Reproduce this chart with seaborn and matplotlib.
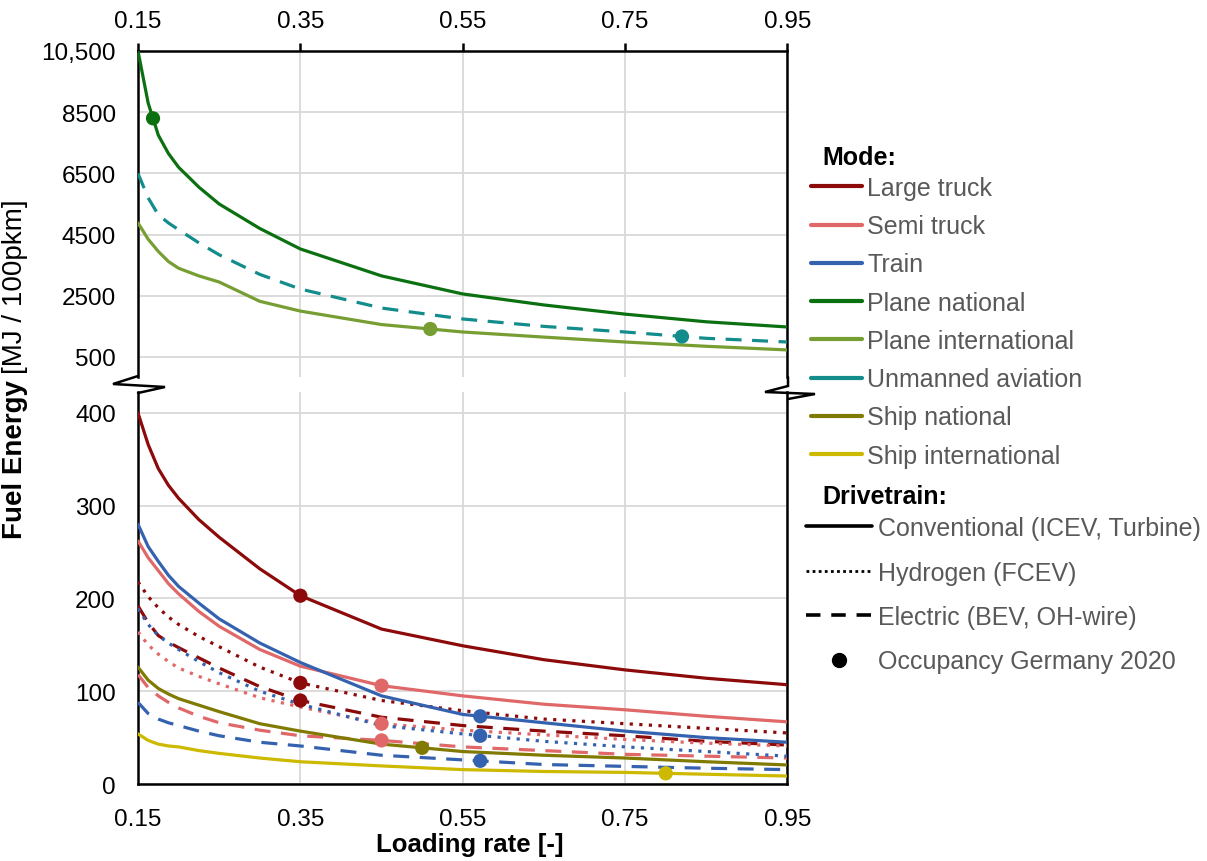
import matplotlib
matplotlib.use("Agg")
import matplotlib.pyplot as plt
from matplotlib.lines import Line2D
import pandas as pd
import seaborn as sns

# ---------------------------------------------------------------------------
# Fuel energy per 100 passenger-km as a function of the loading rate
# ---------------------------------------------------------------------------
loading = [0.15, 0.1625, 0.175, 0.1875, 0.2, 0.225, 0.25, 0.3, 0.35,
           0.45, 0.55, 0.65, 0.75, 0.85, 0.95]

# aviation (upper panel, MJ / 100pkm)
plane_national_conv = [10500, 8800, 7750, 7150, 6700, 6050, 5500, 4700, 4030,
                       3150, 2560, 2200, 1900, 1650, 1480]
plane_international_conv = [4880, 4350, 3950, 3620, 3400, 3150, 2950, 2320, 2000,
                            1560, 1317, 1150, 990, 850, 730]
unmanned_aviation_bev = [6500, 5700, 5150, 4880, 4660, 4230, 3840, 3200, 2720,
                         2100, 1742, 1500, 1317, 1110, 990]

# road, rail and water (lower panel, MJ / 100pkm)
large_truck_conv = [400, 366, 340, 322, 308, 285, 266, 232, 203,
                    167, 149, 134, 123, 114, 107]
large_truck_h2 = [218, 202, 190, 180, 172, 159, 148, 126, 109,
                  90, 79, 70, 65, 60, 55]
large_truck_bev = [192, 174, 160, 153, 147, 136, 125, 105, 90,
                   72, 63, 57, 52, 46, 42]
semi_truck_conv = [262, 244, 230, 216, 205, 186, 170, 145, 127,
                   106, 95, 86, 80, 73, 67]
semi_truck_h2 = [164, 150, 140, 132, 125, 116, 108, 93, 83,
                 65, 58, 53, 48, 44, 41]
semi_truck_bev = [118, 104, 95, 88, 82, 73, 66, 58, 52,
                  47, 40, 36, 32, 30, 28]
train_conv = [280, 256, 240, 225, 213, 195, 178, 152, 131,
              95, 75, 66, 57, 50, 45]
train_h2 = [189, 172, 160, 152, 145, 132, 120, 100, 86,
            63, 54, 46, 40, 35, 30]
train_bev = [88, 76, 70, 66, 63, 57, 52, 45, 41,
             31, 26, 21, 19, 17, 15.5]
ship_national_conv = [126, 112, 103, 97, 92, 85, 78, 65, 57,
                      43, 35, 31, 28, 24, 20.5]
ship_international_conv = [54, 47, 43, 41, 40, 36, 33, 28, 24,
                           19.5, 15.5, 13.5, 12.5, 10.5, 8.6]

# occupancy Germany 2020
occ_mode = ["Plane national", "Plane international", "Unmanned aviation",
            "Large truck", "Large truck", "Large truck",
            "Semi truck", "Semi truck", "Semi truck",
            "Train", "Train", "Train",
            "Ship national", "Ship international"]
occ_loading = [0.1685, 0.51, 0.82,
               0.35, 0.35, 0.35,
               0.45, 0.45, 0.45,
               0.5716, 0.5716, 0.5716,
               0.50, 0.80]
occ_energy = [8300, 1415, 1170,
              203, 109, 90,
              106, 65, 47,
              73, 52, 25,
              39, 11.5]

modes = ["Large truck", "Semi truck", "Train", "Plane national",
         "Plane international", "Unmanned aviation", "Ship national",
         "Ship international"]
mode_colors = ["#8C0A0A", "#E06868", "#3562AF", "#0B7010",
               "#779E33", "#138C8C", "#807A00", "#CDB900"]
drivetrains = ["Conventional (ICEV, Turbine)", "Hydrogen (FCEV)",
               "Electric (BEV, OH-wire)"]

palette = dict(zip(modes, mode_colors))
dash_map = {drivetrains[0]: "", drivetrains[1]: (1, 2), drivetrains[2]: (5, 3.3)}

series = [
    ("air", "Plane national", drivetrains[0], plane_national_conv),
    ("air", "Plane international", drivetrains[0], plane_international_conv),
    ("air", "Unmanned aviation", drivetrains[2], unmanned_aviation_bev),
    ("ground", "Large truck", drivetrains[0], large_truck_conv),
    ("ground", "Large truck", drivetrains[1], large_truck_h2),
    ("ground", "Large truck", drivetrains[2], large_truck_bev),
    ("ground", "Semi truck", drivetrains[0], semi_truck_conv),
    ("ground", "Semi truck", drivetrains[1], semi_truck_h2),
    ("ground", "Semi truck", drivetrains[2], semi_truck_bev),
    ("ground", "Train", drivetrains[0], train_conv),
    ("ground", "Train", drivetrains[1], train_h2),
    ("ground", "Train", drivetrains[2], train_bev),
    ("ground", "Ship national", drivetrains[0], ship_national_conv),
    ("ground", "Ship international", drivetrains[0], ship_international_conv),
]

rows = []
for panel, mode, drive, values in series:
    for x, y in zip(loading, values):
        rows.append({"panel": panel, "mode": mode, "drivetrain": drive,
                     "loading": x, "energy": y})
lines_df = pd.DataFrame(rows)

occ_df = pd.DataFrame({"mode": occ_mode, "loading": occ_loading,
                       "energy": occ_energy})
occ_df["panel"] = ["air" if e > 500 else "ground" for e in occ_df["energy"]]

# ---------------------------------------------------------------------------
sns.set_theme(style="white")
plt.rcParams["font.family"] = ["Liberation Sans", "DejaVu Sans"]

W, H = 1207, 862
FS_TICK = 17.5
FS_LEG = 18
fig = plt.figure(figsize=(W / 100, H / 100), dpi=100)


def fig_box(x0, y0, x1, y1):
    """Axes rectangle from pixel coordinates measured from the top-left."""
    return [x0 / W, 1 - y1 / H, (x1 - x0) / W, (y1 - y0) / H]


def fx(px):
    return px / W


def fy(py):
    return 1 - py / H


ax_top = fig.add_axes(fig_box(138, 52, 787.5, 378))
ax_bot = fig.add_axes(fig_box(138, 393, 787.5, 785))

GRID = "#D9D9D9"
TEXT_GREY = "#595959"
xticks = [0.15, 0.35, 0.55, 0.75, 0.95]

for ax, panel in ((ax_top, "air"), (ax_bot, "ground")):
    sub = lines_df[lines_df["panel"] == panel]
    sns.lineplot(data=sub, x="loading", y="energy", hue="mode",
                 style="drivetrain", palette=palette, dashes=dash_map,
                 estimator=None, sort=True, linewidth=2.3, legend=False,
                 ax=ax, zorder=3)
    pts = occ_df[occ_df["panel"] == panel]
    sns.scatterplot(data=pts, x="loading", y="energy", hue="mode",
                    palette=palette, s=105, edgecolor="none", legend=False,
                    ax=ax, zorder=4)
    ax.set_xlim(0.15, 0.95)
    ax.set_xticks(xticks)
    ax.set_xticklabels([f"{t:.2f}" for t in xticks])
    ax.grid(True, color=GRID, linewidth=1.3, zorder=0)
    ax.set_axisbelow(True)
    ax.set_xlabel("")
    ax.set_ylabel("")
    for s in ax.spines.values():
        s.set_color("black")
        s.set_linewidth(1.8)
    ax.tick_params(axis="both", which="major", labelsize=FS_TICK,
                   colors="black", length=6, width=1.8, direction="out")
    ax.tick_params(axis="y", pad=10)

# upper panel: aviation
ax_top.set_ylim(-154, 10500)
top_ticks = [500, 2500, 4500, 6500, 8500, 10500]
ax_top.set_yticks(top_ticks)
ax_top.set_yticklabels(["500", "2500", "4500", "6500", "8500", "10,500"])
ax_top.spines["bottom"].set_visible(False)
ax_top.xaxis.tick_top()
ax_top.tick_params(axis="x", bottom=False, top=True, labelbottom=False,
                   labeltop=True, pad=8)

# lower panel: road, rail, water
ax_bot.set_ylim(0, 422.6)
ax_bot.set_yticks([0, 100, 200, 300, 400])
ax_bot.spines["top"].set_visible(False)
ax_bot.tick_params(axis="x", pad=11)
for ax in (ax_top, ax_bot):
    ax.tick_params(axis="y", right=False)


# axis-break zigzags joining both panels
def px_line(points):
    fig.add_artist(Line2D([fx(p[0]) for p in points],
                          [fy(p[1]) for p in points],
                          transform=fig.transFigure, color="black",
                          linewidth=1.8, solid_joinstyle="miter"))


px_line([(138, 377), (113, 385), (165, 388), (138, 394)])
px_line([(788, 378), (788, 387), (765, 393), (815, 395), (788, 400)])

# axis titles
fig.text(fx(470), fy(845), "Loading rate [-]", ha="center", va="center",
         fontsize=18.5, fontweight="bold", color="black")
fig.text(fx(15), fy(380), "Fuel Energy", rotation=90, ha="center", va="top",
         fontsize=20, fontweight="bold", color="black")
fig.text(fx(15), fy(374), "[MJ / 100pkm]", rotation=90, ha="center",
         va="bottom", fontsize=20, color="black")

# legends with separate bold headings
fig.text(fx(822), fy(158), "Mode:", ha="left", va="center",
         fontsize=FS_LEG, fontweight="bold", color="black")
fig.text(fx(822), fy(497), "Drivetrain:", ha="left", va="center",
         fontsize=FS_LEG, fontweight="bold", color="black")

mode_handles = [Line2D([], [], color=c, linewidth=3) for c in mode_colors]
leg1 = fig.legend(mode_handles, modes, loc="upper left",
                  bbox_to_anchor=(fx(811), fy(177)), frameon=False,
                  fontsize=FS_LEG, handlelength=2.05, handletextpad=0.2,
                  labelspacing=0.57, borderpad=0, borderaxespad=0)
for t in leg1.get_texts():
    t.set_color(TEXT_GREY)

drive_handles = [
    Line2D([], [], color="black", linewidth=2.6),
    Line2D([], [], color="black", linewidth=2.0, dashes=(1, 1.2)),
    Line2D([], [], color="black", linewidth=2.6, dashes=(4, 3)),
    Line2D([], [], color="black", linestyle="none", marker="o", markersize=10),
]
drive_labels = drivetrains + ["Occupancy Germany 2020"]
leg2 = fig.legend(drive_handles, drive_labels, loc="upper left",
                  bbox_to_anchor=(fx(806), fy(517)), frameon=False,
                  fontsize=FS_LEG, handlelength=2.65, handletextpad=0.25,
                  labelspacing=0.82, borderpad=0, borderaxespad=0)
for t in leg2.get_texts():
    t.set_color(TEXT_GREY)

fig.savefig("out.png", dpi=100, facecolor="white")
